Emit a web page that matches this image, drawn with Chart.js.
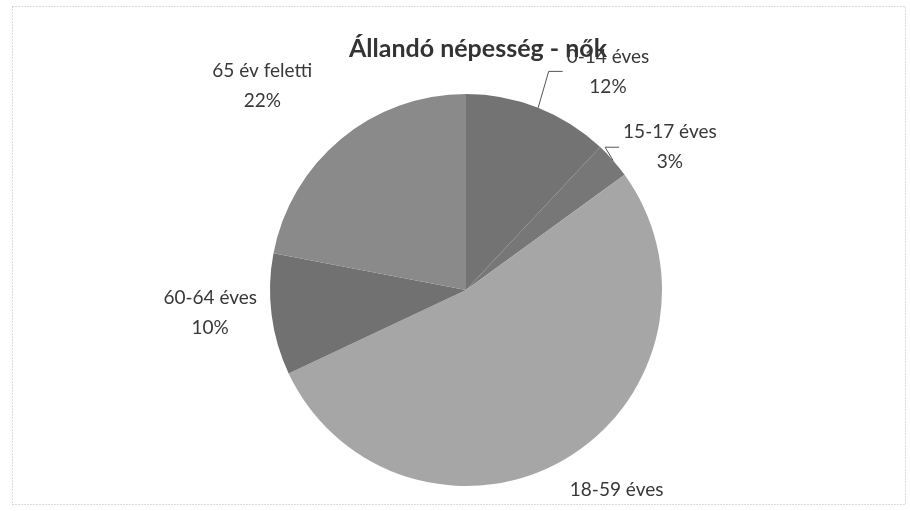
<!DOCTYPE html>
<html>
<head>
<meta charset="utf-8">
<title>Állandó népesség - nők</title>
<script src="https://cdn.jsdelivr.net/npm/chart.js@4/dist/chart.umd.min.js"></script>
<style>
    html, body { margin: 0; padding: 0; background: #fff; }
    canvas { display: block; }
</style>
</head>
<body>
<canvas id="pieChart" width="910" height="511"></canvas>
<script>
// Chart data (percent shares)
const categories = ['0-14 éves', '15-17 éves', '18-59 éves', '60-64 éves', '65 év feletti'];
const shares = [12, 3, 53, 10, 22];
const sliceColors = ['#737373', '#777777', '#a6a6a6', '#717171', '#8a8a8a'];
const chartTitle = 'Állandó népesség - nők';

// Label placement: angle (deg, clockwise from top) and distance as a factor of the radius
const labelSpots = [
    { a: 33, k: 1.33, leader: true },
    { a: 55, k: 1.27, leader: true },
    { a: 145, k: 1.34, leader: false },
    { a: 265, k: 1.31, leader: false },
    { a: 315, k: 1.47, leader: false }
];

Chart.defaults.font.family = "'Lato', 'Open Sans', sans-serif";
Chart.defaults.color = '#333';

// Dotted frame + title + outside labels
const decorPlugin = {
    id: 'decor',
    beforeDraw(chart) {
        const ctx = chart.ctx;
        ctx.save();
        ctx.fillStyle = '#fff';
        ctx.fillRect(0, 0, chart.width, chart.height);
        ctx.strokeStyle = '#b8b8b8';
        ctx.lineWidth = 1;
        ctx.setLineDash([1, 2]);
        ctx.strokeRect(12.5, 6.5, 893, 498);
        ctx.restore();
    },
    afterDraw(chart) {
        const ctx = chart.ctx;
        const meta = chart.getDatasetMeta(0);
        const total = shares.reduce((s, v) => s + v, 0);

        ctx.save();
        // title
        ctx.font = "bold 25px 'Lato', sans-serif";
        ctx.fillStyle = '#333';
        ctx.textAlign = 'center';
        ctx.textBaseline = 'middle';
        ctx.fillText(chartTitle, 478, 49);

        ctx.font = "19px 'Lato', sans-serif";
        ctx.fillStyle = '#383838';
        meta.data.forEach((arc, i) => {
            const cx = arc.x, cy = arc.y, r = arc.outerRadius;
            const spot = labelSpots[i];
            const ang = spot.a * Math.PI / 180;
            const lx = cx + Math.sin(ang) * r * spot.k;
            const ly = cy - Math.cos(ang) * r * spot.k;
            const pct = Math.round(shares[i] / total * 100) + '%';

            ctx.fillText(categories[i], lx, ly - 15);
            ctx.fillText(pct, lx, ly + 15);

            if (spot.leader) {
                const mid = (arc.startAngle + arc.endAngle) / 2;
                const px = cx + Math.cos(mid) * r;
                const py = cy + Math.sin(mid) * r;
                const left = lx - ctx.measureText(categories[i]).width / 2 - 4;
                ctx.strokeStyle = '#555';
                ctx.lineWidth = 1;
                ctx.beginPath();
                ctx.moveTo(left, ly);
                ctx.lineTo(left - 14, ly);
                ctx.lineTo(px, py);
                ctx.stroke();
            }
        });
        ctx.restore();
    }
};

function initPieChart() {
    const ctx = document.getElementById('pieChart').getContext('2d');
    new Chart(ctx, {
        type: 'pie',
        data: {
            labels: categories,
            datasets: [{
                data: shares,
                backgroundColor: sliceColors,
                borderWidth: 0
            }]
        },
        options: {
            responsive: false,
            animation: false,
            layout: {
                padding: { left: 270, right: 248, top: 94, bottom: 25 }
            },
            plugins: {
                legend: { display: false },
                title: { display: false },
                tooltip: { enabled: false }
            }
        },
        plugins: [decorPlugin]
    });
}

document.addEventListener('DOMContentLoaded', initPieChart);
</script>
</body>
</html>
